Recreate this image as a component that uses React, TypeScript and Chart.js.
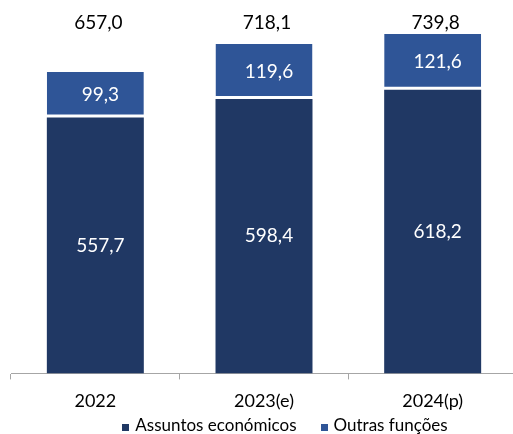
import React, { useEffect, useRef } from 'react';
import { Chart, registerables } from 'chart.js';

Chart.register(...registerables);

const categories = ['2022', '2023(e)', '2024(p)'];
const assuntosEconomicos = [557.7, 598.4, 618.2];
const outrasFuncoes = [99.3, 119.6, 121.6];
const totals = [657.0, 718.1, 739.8];
const seriesNames = ['Assuntos económicos', 'Outras funções'];
const seriesColors = ['#203864', '#2F5597'];

const FONT = 'Lato, "Open Sans", sans-serif';
const fmt = (v: number) => v.toFixed(1).replace('.', ',');

const valueLabelsPlugin = {
  id: 'valueLabels',
  afterDatasetsDraw(chart: any) {
    const ctx = chart.ctx;
    ctx.save();
    ctx.font = `19px ${FONT}`;
    ctx.textAlign = 'center';
    ctx.textBaseline = 'middle';
    ctx.fillStyle = '#ffffff';
    chart.data.datasets.forEach((ds: any, di: number) => {
      const meta = chart.getDatasetMeta(di);
      meta.data.forEach((el: any, i: number) => {
        const { x, y, base } = el.getProps(['x', 'y', 'base'], true);
        ctx.fillText(fmt(ds.data[i]), x + 5, (y + base) / 2);
      });
    });
    ctx.fillStyle = '#000000';
    const meta0 = chart.getDatasetMeta(0);
    meta0.data.forEach((el: any, i: number) => {
      ctx.fillText(fmt(totals[i]), el.x + 3, chart.chartArea.top + 23);
    });
    ctx.restore();
  },
};

const bottomLegendPlugin = {
  id: 'bottomLegend',
  afterDraw(chart: any) {
    const ctx = chart.ctx;
    ctx.save();
    ctx.font = `17px ${FONT}`;
    ctx.textBaseline = 'middle';
    ctx.textAlign = 'left';
    const box = 7;
    const gapText = 6;
    const gapItem = 24;
    const items = chart.data.datasets.map((ds: any) => ({ text: ds.label, color: ds.backgroundColor }));
    const widths = items.map((it: any) => box + gapText + ctx.measureText(it.text).width);
    const total = widths.reduce((a: number, b: number) => a + b, 0) + gapItem * (items.length - 1);
    let x = 285 - total / 2;
    const y = 427;
    items.forEach((it: any, i: number) => {
      ctx.fillStyle = it.color;
      ctx.fillRect(Math.round(x), y - 3, box, box);
      ctx.fillStyle = '#000000';
      ctx.fillText(it.text, x + box + gapText, y - 1);
      x += widths[i] + gapItem;
    });
    ctx.restore();
  },
};

export default function App() {
  const canvasRef = useRef<HTMLCanvasElement | null>(null);

  useEffect(() => {
    document.documentElement.style.overflow = 'hidden';
    document.body.style.overflow = 'hidden';
    const canvas = canvasRef.current;
    if (!canvas) return;
    const chart = new Chart(canvas, {
      type: 'bar',
      data: {
        labels: categories,
        datasets: [
          {
            label: seriesNames[0],
            data: assuntosEconomicos,
            backgroundColor: seriesColors[0],
            borderWidth: 0,
            barPercentage: 0.575,
            categoryPercentage: 1,
          },
          {
            label: seriesNames[1],
            data: outrasFuncoes,
            backgroundColor: seriesColors[1],
            borderColor: '#ffffff',
            borderWidth: { top: 0, right: 0, bottom: 3, left: 0 },
            borderSkipped: false,
            barPercentage: 0.575,
            categoryPercentage: 1,
          },
        ],
      },
      options: {
        responsive: false,
        animation: false,
        layout: { padding: { left: 11, right: 3, top: 0, bottom: 11 } },
        plugins: {
          legend: { display: false },
          tooltip: { enabled: false },
        },
        scales: {
          x: {
            stacked: true,
            grid: {
              display: true,
              drawOnChartArea: false,
              drawTicks: true,
              tickLength: 6,
              offset: true,
              color: '#a6a6a6',
              lineWidth: 1,
            },
            border: { display: true, color: '#a6a6a6', width: 1 },
            ticks: { color: '#000000', font: { family: FONT, size: 18 }, padding: 11 },
          },
          y: {
            stacked: true,
            display: false,
            min: 0,
            max: 814,
          },
        },
      },
      plugins: [valueLabelsPlugin, bottomLegendPlugin],
    });
    return () => chart.destroy();
  }, []);

  return (
    <div style={{ position: 'absolute', left: 0, top: 0, width: 520, height: 434, background: '#ffffff' }}>
      <canvas ref={canvasRef} width={520} height={434} />
    </div>
  );
}
